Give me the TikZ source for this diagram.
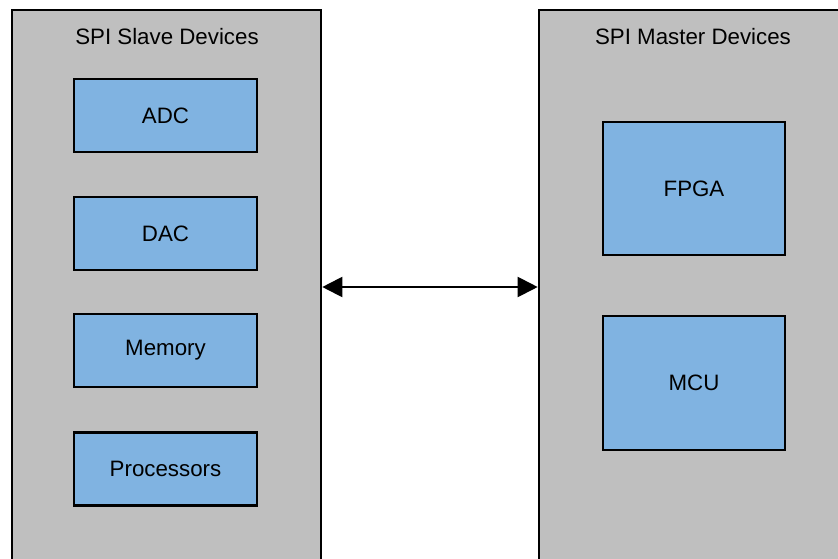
\documentclass[tikz,border=0pt]{standalone}
\usepackage{fontspec}
\setmainfont{Liberation Sans}
\usetikzlibrary{arrows.meta}
\definecolor{panelgray}{RGB}{191,191,191}
\definecolor{devblue}{RGB}{128,179,225}
\begin{document}
\begin{tikzpicture}[x=1pt,y=-1pt,
  panel/.style={draw=black,fill=panelgray,line width=2.6pt,minimum height=554pt,inner sep=0pt},
  device/.style={draw=black,fill=devblue,line width=2.6pt,inner sep=0pt,font=\fontsize{22.3}{25}\selectfont},
  title/.style={font=\fontsize{22.3}{25}\selectfont,inner sep=0pt},
  link/.style={line width=2pt,{Triangle[length=20pt,width=20pt]}-{Triangle[length=20pt,width=20pt]}}]
\useasboundingbox (0,0) rectangle (838,558);
\clip (0,0) rectangle (838,558);
\fill[white] (0,0) rectangle (838,558);
% the two device groups
\node[panel,minimum width=309pt] (slave) at (166.5,287) {};
\node[panel,minimum width=311pt] (master) at (694.5,287) {};
\node[title] (slavetitle) at (167,37) {SPI Slave Devices};
\node[title] (mastertitle) at (693,37) {SPI Master Devices};
% slave devices
\node[device,minimum width=183pt,minimum height=73pt] (adc) at (165.5,115.5) {ADC};
\node[device,minimum width=183pt,minimum height=73pt] (dac) at (165.5,233.5) {DAC};
\node[device,minimum width=183pt,minimum height=73pt] (mem) at (165.5,350.5) {Memory};
\node[device,minimum width=183pt,minimum height=73pt] (proc) at (165.5,469) {Processors};
% master devices
\node[device,minimum width=182pt,minimum height=133pt] (fpga) at (694,188.5) {FPGA};
\node[device,minimum width=182pt,minimum height=134pt] (mcu) at (694,383) {MCU};
% SPI bus
\draw[link] (slave.east) -- (master.west);
\end{tikzpicture}
\end{document}
